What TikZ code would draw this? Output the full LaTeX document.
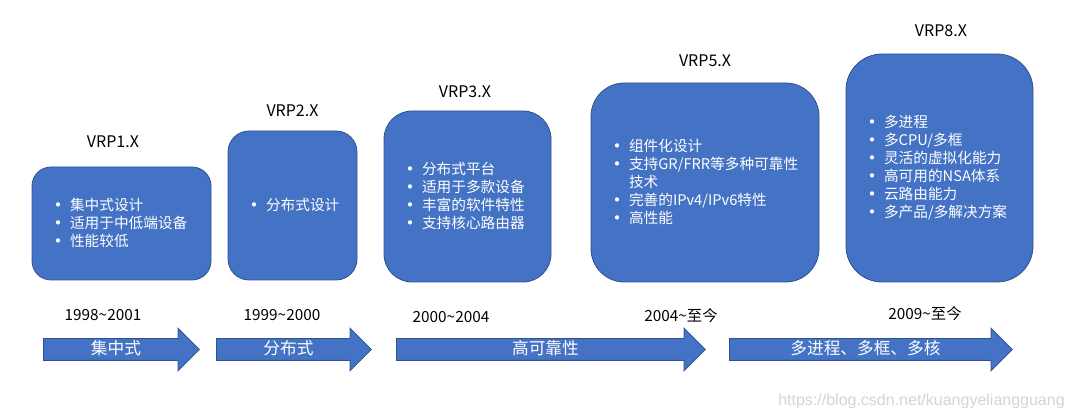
\documentclass[tikz,border=0pt]{standalone}
\usepackage{fontspec}
\setmainfont{Noto Sans CJK SC}
\newfontfamily\urlfont{Liberation Sans}
\usetikzlibrary{shapes.arrows,positioning}

\definecolor{vrpblue}{HTML}{4472C4}
\definecolor{vrpedge}{HTML}{2F528F}
\newcommand{\bitem}{\makebox[16.5pt][l]{\raisebox{-1.2pt}{\fontsize{15pt}{13.5pt}\selectfont •}}}
\newcommand{\bcont}{\hspace*{16.5pt}}

\begin{document}
\begin{tikzpicture}[
    x=0.75pt, y=-0.75pt,
    vrpbox/.style={
        draw=vrpedge,
        line width=0.6pt,
        fill=vrpblue,
        text=white,
        font=\fontsize{11pt}{13.5pt}\selectfont,
        align=left,
        inner xsep=12pt,
        inner ysep=0pt
    },
    verlabel/.style={font=\fontsize{12pt}{14pt}\selectfont, inner sep=0pt},
    yearlabel/.style={font=\fontsize{11.5pt}{14pt}\selectfont, inner sep=0pt},
    erabar/.style={
        single arrow,
        draw=vrpedge,
        line width=0.6pt,
        fill=vrpblue,
        text=white,
        font=\fontsize{12.5pt}{14pt}\selectfont,
        minimum width=31.5pt,
        single arrow head extend=7.875pt,
        single arrow tip angle=90,
        single arrow head indent=0pt,
        text height=9pt,
        text depth=2pt,
        inner ysep=2.375pt,
        inner xsep=0pt,
        anchor=tail
    }
]

\useasboundingbox (0,0) rectangle (1067,416);

\node[vrpbox, minimum width=134.25pt, minimum height=84.75pt,
    text width=110.25pt, rounded corners=14.25pt] (vrp1) at (121.5,223.5)
{\bitem 集中式设计\\\bitem 适用于中低端设备\\\bitem 性能较低};

\node[vrpbox, minimum width=96.75pt, minimum height=111.75pt,
    text width=72.75pt, rounded corners=15.75pt] (vrp2) at (292.5,205.5)
{\bitem 分布式设计};

\node[vrpbox, minimum width=125.25pt, minimum height=128.25pt,
    text width=101.25pt, rounded corners=21pt] (vrp3) at (467.5,196.5)
{\bitem 分布式平台\\\bitem 适用于多款设备\\\bitem 丰富的软件特性\\\bitem 支持核心路由器};

\node[vrpbox, minimum width=171pt, minimum height=149.25pt,
    text width=147pt, rounded corners=25pt] (vrp5) at (705,182.5)
{\bitem 组件化设计\\\bitem 支持GR/FRR等多种可靠性\\\bcont 技术\\\bitem 完善的IPv4/IPv6特性\\\bitem 高性能};

\node[vrpbox, minimum width=140.25pt, minimum height=171pt,
    text width=116.25pt, rounded corners=27pt] (vrp8) at (939.5,168)
{\bitem 多进程\\\bitem 多CPU/多框\\\bitem 灵活的虚拟化能力\\\bitem 高可用的NSA体系\\\bitem 云路由能力\\\bitem 多产品/多解决方案};

\node[verlabel, above=13.6pt of vrp1, xshift=-6.4pt] (lab1) {VRP1.X};
\node[verlabel, above=9.9pt of vrp2] (lab2) {VRP2.X};
\node[verlabel, above=9.1pt of vrp3, xshift=-1.9pt] (lab3) {VRP3.X};
\node[verlabel, above=11.4pt of vrp5] (lab5) {VRP5.X};
\node[verlabel, above=12.1pt of vrp8, xshift=1.1pt] (lab8) {VRP8.X};

\node[yearlabel] (year1) at (103,315) {1998\textasciitilde 2001};
\node[yearlabel] (year2) at (282,315) {1999\textasciitilde 2000};
\node[yearlabel] (year3) at (451,317) {2000\textasciitilde 2004};
\node[yearlabel] (year5) at (681,316) {2004\textasciitilde 至今};
\node[yearlabel] (year8) at (925,314) {2009\textasciitilde 至今};

\node[erabar, minimum height=117pt] (era1) at (43,349.5) {集中式};
\node[erabar, minimum height=116.25pt] (era2) at (216,349.5) {分布式};
\node[erabar, minimum height=231.75pt] (era3) at (396,349.5) {高可靠性};
\node[erabar, minimum height=212.25pt] (era4) at (729,349.5) {多进程、多框、多核};

\node[anchor=west, inner sep=0pt, text=black!17,
    font=\urlfont\fontsize{12pt}{14pt}\selectfont] (mark) at (778,401)
{https://blog.csdn.net/kuangyeliangguang};

\end{tikzpicture}
\end{document}
